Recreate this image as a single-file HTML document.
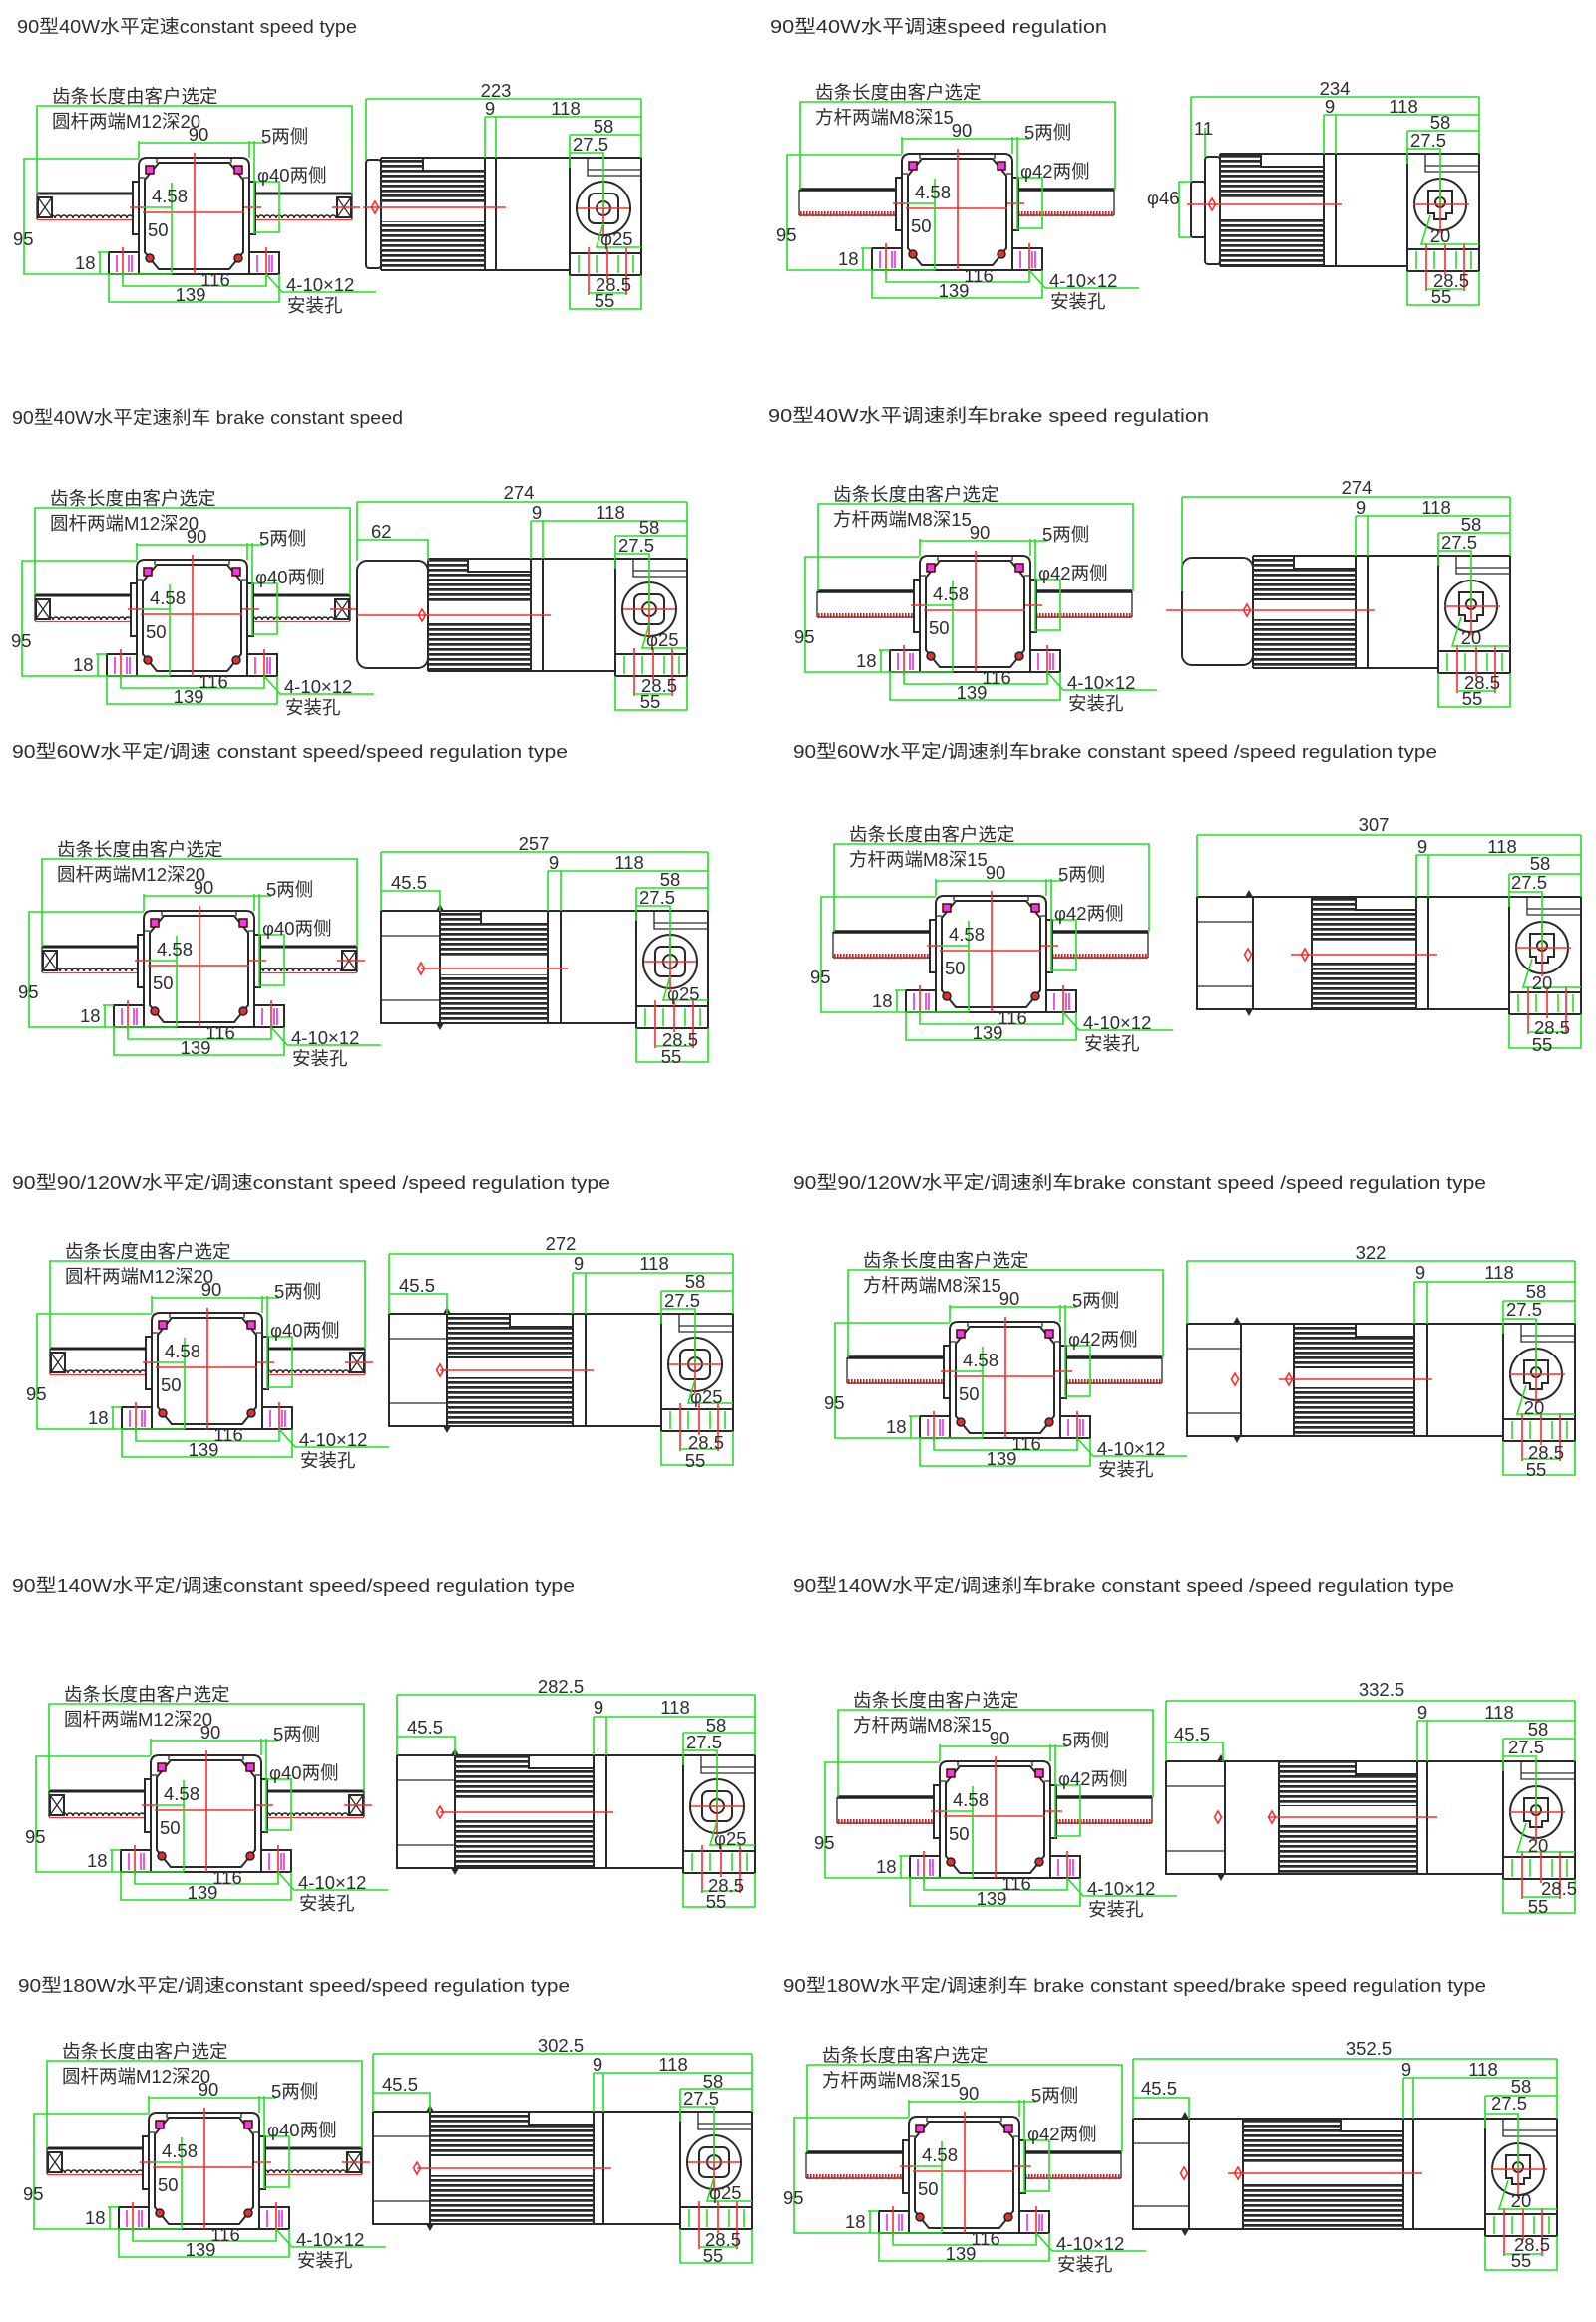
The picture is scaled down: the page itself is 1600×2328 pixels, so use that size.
<!DOCTYPE html>
<html><head><meta charset="utf-8">
<style>
html,body{margin:0;padding:0;background:#fff;}
svg{display:block}
text{font-family:"Liberation Sans","Noto Sans CJK SC",sans-serif;fill:#2e2e2e;font-size:18.5px}
.c{text-anchor:middle}
.k{fill:#fff;stroke:#2a2a2a;stroke-width:2}
.kn{fill:none;stroke:#2a2a2a;stroke-width:2}
.k1{fill:none;stroke:#2a2a2a;stroke-width:1.3}
.g{fill:none;stroke:#22e022;stroke-width:1.6}
.r{fill:none;stroke:#ff2a2a;stroke-width:1.6}
.m{fill:none;stroke:#e020e0;stroke-width:1.5}
</style></head><body>
<svg width="1600" height="2328" viewBox="0 0 1600 2328" xmlns="http://www.w3.org/2000/svg" xmlns:xlink="http://www.w3.org/1999/xlink">
<defs>
<pattern id="fin" width="10" height="5" patternUnits="userSpaceOnUse"><rect width="10" height="2.7" fill="#2a2a2a"/></pattern>
<pattern id="wave" x="0" y="54" width="6" height="8" patternUnits="userSpaceOnUse"><path d="M0,7 A3,3 0 0 1 6,7" fill="none" stroke="#222" stroke-width="1.5"/></pattern>
<pattern id="fine" x="0" y="58" width="3" height="5" patternUnits="userSpaceOnUse"><rect width="1.6" height="5" fill="#c22"/></pattern>

<g id="rr">
<path d="M-102,36 H-6 M117,36 H214" stroke="#222" stroke-width="3" fill="none"/>
<rect x="-102" y="54" width="96" height="8" fill="url(#wave)"/>
<rect x="117" y="54" width="97" height="8" fill="url(#wave)"/>
<path d="M-102,62.5 H-6 M117,62.5 H214" stroke="#f33" stroke-width="1.3" fill="none"/>
<path class="k1" d="M-102,36 V62 M214,36 V62"/>
<rect class="k" x="-101" y="40" width="14" height="20"/>
<path class="k1" d="M-101,40 L-87,60 M-87,40 L-101,60"/>
<rect class="k" x="199" y="40" width="14" height="20"/>
<path class="k1" d="M199,40 L213,60 M213,40 L199,60"/>
<path class="r" d="M194,50 H222"/>
</g>

<g id="rs">
<path d="M-103,36 H-6 M117,36 H213" stroke="#222" stroke-width="3.5" fill="none"/>
<path class="k1" d="M-103,36 V62 M213,36 V62 M-103,62 H-6 M117,62 H213"/>
<rect x="-103" y="58" width="97" height="5" fill="url(#fine)"/>
<rect x="117" y="58" width="96" height="5" fill="url(#fine)"/>
</g>

<g id="fc">
<rect class="k" x="-6" y="24" width="6" height="53"/>
<rect class="k" x="111" y="24" width="6" height="53"/>
<path class="k" d="M0,117 V8 Q0,0 8,0 H103 Q111,0 111,8 V117 Z"/>
<path class="k1" d="M0,20 H6 M105,20 H111 M18,0 V5 M93,0 V5"/>
<polygon class="k" points="20,5 91,5 105,22 105,95 91,112 20,112 6,95 6,22"/>
<rect x="7" y="8" width="8" height="8" fill="#e040e0" stroke="#500" stroke-width="1.5"/>
<rect x="96" y="8" width="8" height="8" fill="#e040e0" stroke="#500" stroke-width="1.5"/>
<circle cx="11" cy="101" r="4" fill="#e03030" stroke="#222" stroke-width="1.5"/>
<circle cx="100" cy="101" r="4" fill="#e03030" stroke="#222" stroke-width="1.5"/>
<rect class="k" x="-30" y="95" width="30" height="22"/>
<rect class="k" x="111" y="95" width="30" height="22"/>
<path class="m" d="M-22,98 V115 M-10,98 V115 M-7,98 V115 M119,98 V115 M131,98 V115 M134,98 V115"/>
<path class="r" d="M-16,90 V120 M128,90 V120 M56,-5 V117 M4,55 H106 M-9,50 H5 M106,50 H123"/>
<path class="g" d="M-102,36 V-52 H214 V36 M0,0 V-17 M111,0 V-17 M0,-15 H128 M116,-17 V77 M0,1 H-115 V117 H33 M33,25 V117 M4,50 H33 M117,24 H141 V75 H117 M-30,95 H-41 M-39,95 V117 M-16,117 V129 H128 V117 M-30,117 V145 H141 V117 M128,117 L144,135 H238"/>
</g>

<g id="gbR">
<path class="kn" d="M-72,0 V113"/>
<path class="k1" d="M-54,0 V18 H0 M-54,12 H-1"/>
<circle class="k" cx="-38" cy="51" r="27"/>
<rect class="k" x="-53" y="36" width="30" height="30" rx="6"/>
<circle class="k" cx="-38" cy="51" r="7"/>
<rect class="k" x="-72" y="96" width="72" height="22"/>
<path class="g" d="M-63,98 V116 M-45,98 V116 M-23,98 V116 M-8,98 V116"/>
<path class="r" d="M-64,51 H-12 M-38,22 V80 M-53,90 V138 M-34,90 V122 M-15,90 V138"/>
<path class="g" d="M-72,-23 H0 M-72,-23 V10 M-72,-5 H-38 V51 M-53,136 H-15 M-72,118 V152 H0 V118 M-38,66 L-45,90 H0"/>
</g>

<g id="gbS">
<path class="kn" d="M-72,0 V113"/>
<path class="k1" d="M-54,0 V18 H0 M-54,12 H-1"/>
<circle class="k" cx="-39" cy="51" r="26"/>
<path class="k" d="M-51,37 H-27 V60 H-33 V66 H-45 V60 H-51 Z"/>
<circle class="k" cx="-39" cy="49" r="5"/>
<rect class="k" x="-72" y="96" width="72" height="22"/>
<path class="g" d="M-63,98 V116 M-45,98 V116 M-23,98 V116 M-8,98 V116"/>
<path class="r" d="M-66,51 H-10 M-39,24 V80 M-53,90 V138 M-34,90 V122 M-15,90 V138"/>
<path class="g" d="M-72,-23 H0 M-72,-23 V10 M-72,-5 H-39 V51 M-53,136 H-15 M-72,118 V152 H0 V118 M-49,62 L-58,91 H0"/>
</g>
</defs>

<!-- ================= TITLES ================= -->
<text x="17" y="33" textLength="341" lengthAdjust="spacingAndGlyphs">90型40W水平定速constant speed type</text>
<text x="772" y="33" textLength="338" lengthAdjust="spacingAndGlyphs">90型40W水平调速speed regulation</text>
<text x="12" y="425" textLength="392" lengthAdjust="spacingAndGlyphs">90型40W水平定速刹车 brake constant speed</text>
<text x="770" y="423" textLength="442" lengthAdjust="spacingAndGlyphs">90型40W水平调速刹车brake speed regulation</text>
<text x="12" y="760" textLength="557" lengthAdjust="spacingAndGlyphs">90型60W水平定/调速 constant speed/speed regulation type</text>
<text x="795" y="760" textLength="646" lengthAdjust="spacingAndGlyphs">90型60W水平定/调速刹车brake constant speed /speed regulation type</text>
<text x="12" y="1192" textLength="600" lengthAdjust="spacingAndGlyphs">90型90/120W水平定/调速constant speed /speed regulation type</text>
<text x="795" y="1192" textLength="695" lengthAdjust="spacingAndGlyphs">90型90/120W水平定/调速刹车brake constant speed /speed regulation type</text>
<text x="12" y="1596" textLength="564" lengthAdjust="spacingAndGlyphs">90型140W水平定/调速constant speed/speed regulation type</text>
<text x="795" y="1596" textLength="663" lengthAdjust="spacingAndGlyphs">90型140W水平定/调速刹车brake constant speed /speed regulation type</text>
<text x="18" y="1997" textLength="553" lengthAdjust="spacingAndGlyphs">90型180W水平定/调速constant speed/speed regulation type</text>
<text x="785" y="1997" textLength="705" lengthAdjust="spacingAndGlyphs">90型180W水平定/调速刹车 brake constant speed/brake speed regulation type</text>

<!-- ================= FRONT VIEWS ================= -->
<g transform="translate(139,158)">
<use xlink:href="#rr"/><use xlink:href="#fc"/>
<text x="-87" y="-55">齿条长度由客户选定</text><text x="-87" y="-30">圆杆两端M12深20</text>
<text x="60" y="-17" class="c">90</text><text x="123" y="-15">5两侧</text><text x="119" y="24">φ40两侧</text>
<text x="13" y="45">4.58</text><text x="9" y="79">50</text><text x="-126" y="88">95</text><text x="-64" y="112">18</text>
<text x="77" y="129" class="c">116</text><text x="52" y="144" class="c">139</text><text x="148" y="134">4-10×12</text><text x="149" y="155">安装孔</text>
</g>
<g transform="translate(904,154)">
<use xlink:href="#rs"/><use xlink:href="#fc"/>
<text x="-87" y="-55">齿条长度由客户选定</text><text x="-87" y="-30">方杆两端M8深15</text>
<text x="60" y="-17" class="c">90</text><text x="123" y="-15">5两侧</text><text x="119" y="24">φ42两侧</text>
<text x="13" y="45">4.58</text><text x="9" y="79">50</text><text x="-126" y="88">95</text><text x="-64" y="112">18</text>
<text x="77" y="129" class="c">116</text><text x="52" y="144" class="c">139</text><text x="148" y="134">4-10×12</text><text x="149" y="155">安装孔</text>
</g>
<g transform="translate(137,561)">
<use xlink:href="#rr"/><use xlink:href="#fc"/>
<text x="-87" y="-55">齿条长度由客户选定</text><text x="-87" y="-30">圆杆两端M12深20</text>
<text x="60" y="-17" class="c">90</text><text x="123" y="-15">5两侧</text><text x="119" y="24">φ40两侧</text>
<text x="13" y="45">4.58</text><text x="9" y="79">50</text><text x="-126" y="88">95</text><text x="-64" y="112">18</text>
<text x="77" y="129" class="c">116</text><text x="52" y="144" class="c">139</text><text x="148" y="134">4-10×12</text><text x="149" y="155">安装孔</text>
</g>
<g transform="translate(922,557)">
<use xlink:href="#rs"/><use xlink:href="#fc"/>
<text x="-87" y="-55">齿条长度由客户选定</text><text x="-87" y="-30">方杆两端M8深15</text>
<text x="60" y="-17" class="c">90</text><text x="123" y="-15">5两侧</text><text x="119" y="24">φ42两侧</text>
<text x="13" y="45">4.58</text><text x="9" y="79">50</text><text x="-126" y="88">95</text><text x="-64" y="112">18</text>
<text x="77" y="129" class="c">116</text><text x="52" y="144" class="c">139</text><text x="148" y="134">4-10×12</text><text x="149" y="155">安装孔</text>
</g>
<g transform="translate(144,913)">
<use xlink:href="#rr"/><use xlink:href="#fc"/>
<text x="-87" y="-55">齿条长度由客户选定</text><text x="-87" y="-30">圆杆两端M12深20</text>
<text x="60" y="-17" class="c">90</text><text x="123" y="-15">5两侧</text><text x="119" y="24">φ40两侧</text>
<text x="13" y="45">4.58</text><text x="9" y="79">50</text><text x="-126" y="88">95</text><text x="-64" y="112">18</text>
<text x="77" y="129" class="c">116</text><text x="52" y="144" class="c">139</text><text x="148" y="134">4-10×12</text><text x="149" y="155">安装孔</text>
</g>
<g transform="translate(938,898)">
<use xlink:href="#rs"/><use xlink:href="#fc"/>
<text x="-87" y="-55">齿条长度由客户选定</text><text x="-87" y="-30">方杆两端M8深15</text>
<text x="60" y="-17" class="c">90</text><text x="123" y="-15">5两侧</text><text x="119" y="24">φ42两侧</text>
<text x="13" y="45">4.58</text><text x="9" y="79">50</text><text x="-126" y="88">95</text><text x="-64" y="112">18</text>
<text x="77" y="129" class="c">116</text><text x="52" y="144" class="c">139</text><text x="148" y="134">4-10×12</text><text x="149" y="155">安装孔</text>
</g>
<g transform="translate(152,1316)">
<use xlink:href="#rr"/><use xlink:href="#fc"/>
<text x="-87" y="-55">齿条长度由客户选定</text><text x="-87" y="-30">圆杆两端M12深20</text>
<text x="60" y="-17" class="c">90</text><text x="123" y="-15">5两侧</text><text x="119" y="24">φ40两侧</text>
<text x="13" y="45">4.58</text><text x="9" y="79">50</text><text x="-126" y="88">95</text><text x="-64" y="112">18</text>
<text x="77" y="129" class="c">116</text><text x="52" y="144" class="c">139</text><text x="148" y="134">4-10×12</text><text x="149" y="155">安装孔</text>
</g>
<g transform="translate(952,1325)">
<use xlink:href="#rs"/><use xlink:href="#fc"/>
<text x="-87" y="-55">齿条长度由客户选定</text><text x="-87" y="-30">方杆两端M8深15</text>
<text x="60" y="-17" class="c">90</text><text x="123" y="-15">5两侧</text><text x="119" y="24">φ42两侧</text>
<text x="13" y="45">4.58</text><text x="9" y="79">50</text><text x="-126" y="88">95</text><text x="-64" y="112">18</text>
<text x="77" y="129" class="c">116</text><text x="52" y="144" class="c">139</text><text x="148" y="134">4-10×12</text><text x="149" y="155">安装孔</text>
</g>
<g transform="translate(151,1760)">
<use xlink:href="#rr"/><use xlink:href="#fc"/>
<text x="-87" y="-55">齿条长度由客户选定</text><text x="-87" y="-30">圆杆两端M12深20</text>
<text x="60" y="-17" class="c">90</text><text x="123" y="-15">5两侧</text><text x="119" y="24">φ40两侧</text>
<text x="13" y="45">4.58</text><text x="9" y="79">50</text><text x="-126" y="88">95</text><text x="-64" y="112">18</text>
<text x="77" y="129" class="c">116</text><text x="52" y="144" class="c">139</text><text x="148" y="134">4-10×12</text><text x="149" y="155">安装孔</text>
</g>
<g transform="translate(942,1766)">
<use xlink:href="#rs"/><use xlink:href="#fc"/>
<text x="-87" y="-55">齿条长度由客户选定</text><text x="-87" y="-30">方杆两端M8深15</text>
<text x="60" y="-17" class="c">90</text><text x="123" y="-15">5两侧</text><text x="119" y="24">φ42两侧</text>
<text x="13" y="45">4.58</text><text x="9" y="79">50</text><text x="-126" y="88">95</text><text x="-64" y="112">18</text>
<text x="77" y="129" class="c">116</text><text x="52" y="144" class="c">139</text><text x="148" y="134">4-10×12</text><text x="149" y="155">安装孔</text>
</g>
<g transform="translate(149,2118)">
<use xlink:href="#rr"/><use xlink:href="#fc"/>
<text x="-87" y="-55">齿条长度由客户选定</text><text x="-87" y="-30">圆杆两端M12深20</text>
<text x="60" y="-17" class="c">90</text><text x="123" y="-15">5两侧</text><text x="119" y="24">φ40两侧</text>
<text x="13" y="45">4.58</text><text x="9" y="79">50</text><text x="-126" y="88">95</text><text x="-64" y="112">18</text>
<text x="77" y="129" class="c">116</text><text x="52" y="144" class="c">139</text><text x="148" y="134">4-10×12</text><text x="149" y="155">安装孔</text>
</g>
<g transform="translate(911,2122)">
<use xlink:href="#rs"/><use xlink:href="#fc"/>
<text x="-87" y="-55">齿条长度由客户选定</text><text x="-87" y="-30">方杆两端M8深15</text>
<text x="60" y="-17" class="c">90</text><text x="123" y="-15">5两侧</text><text x="119" y="24">φ42两侧</text>
<text x="13" y="45">4.58</text><text x="9" y="79">50</text><text x="-126" y="88">95</text><text x="-64" y="112">18</text>
<text x="77" y="129" class="c">116</text><text x="52" y="144" class="c">139</text><text x="148" y="134">4-10×12</text><text x="149" y="155">安装孔</text>
</g>

<!-- ================= SIDE VIEWS ================= -->
<!-- R1L -->
<rect class="k" x="367" y="160" width="15" height="109" rx="3"/>
<rect x="382" y="158" width="104" height="113" fill="url(#fin)"/>
<rect x="382" y="203" width="104" height="19" fill="#fff"/>
<rect class="k" x="424" y="158" width="62" height="13"/>
<path class="kn" d="M382,158 H486 M382,271 H486 M382,158 V271"/>
<rect class="k" x="486" y="158" width="11" height="113"/>
<rect class="k" x="497" y="158" width="146" height="113"/>
<use xlink:href="#gbR" x="643" y="158"/>
<path class="r" d="M364,208 H507 M376,202 L379.5,208 L376,214 L372.5,208 Z"/>
<path class="g" d="M367,99 H643 M367,99 V160 M643,99 V158 M486,117 H643 M486,117 V158 M497,117 V158"/>
<text x="497" y="97" class="c">223</text><text x="491" y="115" class="c">9</text><text x="567" y="115" class="c">118</text>
<g transform="translate(643,158)"><text x="-38" y="-25" class="c">58</text><text x="-51" y="-7" class="c">27.5</text><text x="-41" y="88">φ25</text><text x="-28" y="134" class="c">28.5</text><text x="-37" y="150" class="c">55</text></g>

<!-- R1R -->
<rect class="k" x="1194" y="182" width="14" height="56" rx="2"/>
<rect class="k" x="1208" y="157" width="15" height="108" rx="3"/>
<rect x="1223" y="154" width="104" height="113" fill="url(#fin)"/>
<rect x="1223" y="199" width="104" height="19" fill="#fff"/>
<rect class="k" x="1264" y="154" width="63" height="13"/>
<path class="kn" d="M1223,154 H1327 M1223,267 H1327 M1223,154 V267"/>
<rect class="k" x="1327" y="154" width="12" height="113"/>
<rect class="k" x="1339" y="154" width="144" height="113"/>
<use xlink:href="#gbS" x="1483" y="154"/>
<path class="r" d="M1190,205 H1345 M1215,199 L1218.5,205 L1215,211 L1211.5,205 Z"/>
<path class="g" d="M1194,97 H1483 M1194,97 V182 M1483,97 V154 M1327,115 H1483 M1327,115 V154 M1339,115 V154 M1208,128 V157 M1194,182 H1182 V238 H1194"/>
<text x="1338" y="95" class="c">234</text><text x="1333" y="113" class="c">9</text><text x="1407" y="113" class="c">118</text>
<text x="1197" y="135">11</text><text x="1150" y="205">φ46</text>
<g transform="translate(1483,154)"><text x="-39" y="-25" class="c">58</text><text x="-51" y="-7" class="c">27.5</text><text x="-39" y="89" class="c">20</text><text x="-28" y="134" class="c">28.5</text><text x="-38" y="150" class="c">55</text></g>

<!-- R2L -->
<rect class="k" x="358" y="562" width="71" height="108" rx="10"/>
<rect x="429" y="560" width="103" height="113" fill="url(#fin)"/>
<rect x="429" y="605" width="103" height="19" fill="#fff"/>
<rect class="k" x="469" y="560" width="63" height="13"/>
<path class="kn" d="M429,560 H532 M429,673 H532 M429,560 V673"/>
<rect class="k" x="532" y="560" width="12" height="113"/>
<rect class="k" x="544" y="560" width="145" height="113"/>
<use xlink:href="#gbR" x="689" y="560"/>
<path class="r" d="M358,617 H552 M423,611 L426.5,617 L423,623 L419.5,617 Z"/>
<path class="g" d="M358,503 H689 M358,503 V562 M689,503 V560 M532,522 H689 M532,522 V560 M544,522 V560 M358,541 H429 V562"/>
<text x="520" y="500" class="c">274</text><text x="538" y="520" class="c">9</text><text x="612" y="520" class="c">118</text><text x="372" y="539">62</text>
<g transform="translate(689,560)"><text x="-38" y="-25" class="c">58</text><text x="-51" y="-7" class="c">27.5</text><text x="-41" y="88">φ25</text><text x="-28" y="134" class="c">28.5</text><text x="-37" y="150" class="c">55</text></g>

<!-- R2R -->
<rect class="k" x="1185" y="559" width="71" height="108" rx="10"/>
<rect x="1256" y="557" width="103" height="113" fill="url(#fin)"/>
<rect x="1256" y="602" width="103" height="19" fill="#fff"/>
<rect class="k" x="1297" y="557" width="62" height="13"/>
<path class="kn" d="M1256,557 H1359 M1256,670 H1359 M1256,557 V670"/>
<rect class="k" x="1359" y="557" width="12" height="113"/>
<rect class="k" x="1371" y="557" width="143" height="113"/>
<use xlink:href="#gbS" x="1514" y="557"/>
<path class="r" d="M1169,612 H1378 M1250,606 L1253.5,612 L1250,618 L1246.5,612 Z"/>
<path class="g" d="M1185,498 H1514 M1185,498 V593 M1514,498 V557 M1359,517 H1514 M1359,517 V557 M1371,517 V557"/>
<text x="1360" y="495" class="c">274</text><text x="1364" y="515" class="c">9</text><text x="1440" y="515" class="c">118</text>
<g transform="translate(1514,557)"><text x="-39" y="-25" class="c">58</text><text x="-51" y="-7" class="c">27.5</text><text x="-39" y="89" class="c">20</text><text x="-28" y="134" class="c">28.5</text><text x="-38" y="150" class="c">55</text></g>

<!-- R3L -->
<rect class="k" x="382" y="913" width="59" height="113"/>
<path class="k1" d="M382,938 H441 M382,1003 H441"/>
<path fill="#2a2a2a" d="M437,913 L441,906 L445,913 Z M437,1026 L441,1033 L445,1026 Z"/>
<rect x="441" y="913" width="108" height="113" fill="url(#fin)"/>
<rect x="441" y="958" width="108" height="19" fill="#fff"/>
<rect class="k" x="482" y="913" width="67" height="13"/>
<path class="kn" d="M441,913 H549 M441,1026 H549 M441,913 V1026"/>
<rect class="k" x="549" y="913" width="13" height="113"/>
<rect class="k" x="562" y="913" width="148" height="113"/>
<use xlink:href="#gbR" x="710" y="913"/>
<path class="r" d="M422,971 H569 M422,965 L425.5,971 L422,977 L418.5,971 Z"/>
<path class="g" d="M382,854 H710 M382,854 V913 M710,854 V913 M549,873 H710 M549,873 V913 M562,873 V913 M382,893 H441 V913"/>
<text x="535" y="852" class="c">257</text><text x="555" y="871" class="c">9</text><text x="631" y="871" class="c">118</text><text x="392" y="891">45.5</text>
<g transform="translate(710,913)"><text x="-38" y="-25" class="c">58</text><text x="-51" y="-7" class="c">27.5</text><text x="-41" y="90">φ25</text><text x="-28" y="136" class="c">28.5</text><text x="-37" y="153" class="c">55</text></g>

<!-- R3R -->
<rect class="k" x="1200" y="899" width="56" height="113"/>
<path class="k1" d="M1200,924 H1256 M1200,989 H1256"/>
<path fill="#2a2a2a" d="M1248,899 L1252,892 L1256,899 Z M1248,1012 L1252,1019 L1256,1012 Z"/>
<rect x="1315" y="899" width="105" height="113" fill="url(#fin)"/>
<rect x="1315" y="944" width="105" height="19" fill="#fff"/>
<rect class="k" x="1359" y="899" width="61" height="13"/>
<path class="kn" d="M1256,899 H1420 M1256,1012 H1420 M1315,899 V1012"/>
<rect class="k" x="1420" y="899" width="12" height="113"/>
<rect class="k" x="1432" y="899" width="153" height="113"/>
<use xlink:href="#gbS" x="1585" y="899"/>
<path class="r" d="M1294,957 H1441 M1251,951 L1254.5,957 L1251,963 L1247.5,957 Z M1308,951 L1311.5,957 L1308,963 L1304.5,957 Z"/>
<path class="g" d="M1200,837 H1585 M1200,837 V899 M1585,837 V899 M1420,857 H1585 M1420,857 V899 M1432,857 V899"/>
<text x="1377" y="833" class="c">307</text><text x="1426" y="855" class="c">9</text><text x="1506" y="855" class="c">118</text>
<g transform="translate(1585,899)"><text x="-41" y="-27" class="c">58</text><text x="-52" y="-8" class="c">27.5</text><text x="-39" y="93" class="c">20</text><text x="-29" y="138" class="c">28.5</text><text x="-39" y="155" class="c">55</text></g>

<!-- R4L -->
<rect class="k" x="390" y="1317" width="58" height="113"/>
<path class="k1" d="M390,1342 H448 M390,1407 H448"/>
<path fill="#2a2a2a" d="M444,1317 L448,1310 L452,1317 Z M444,1430 L448,1437 L452,1430 Z"/>
<rect x="448" y="1317" width="126" height="113" fill="url(#fin)"/>
<rect x="448" y="1362" width="126" height="19" fill="#fff"/>
<rect class="k" x="511" y="1317" width="63" height="13"/>
<path class="kn" d="M448,1317 H574 M448,1430 H574 M448,1317 V1430"/>
<rect class="k" x="574" y="1317" width="13" height="113"/>
<rect class="k" x="587" y="1317" width="148" height="113"/>
<use xlink:href="#gbR" x="735" y="1317"/>
<path class="r" d="M441,1374 H595 M441,1368 L444.5,1374 L441,1380 L437.5,1374 Z"/>
<path class="g" d="M390,1257 H735 M390,1257 V1317 M735,1257 V1317 M574,1276 H735 M574,1276 V1317 M587,1276 V1317 M390,1297 H448 V1317"/>
<text x="562" y="1253" class="c">272</text><text x="580" y="1273" class="c">9</text><text x="656" y="1273" class="c">118</text><text x="400" y="1295">45.5</text>
<g transform="translate(735,1317)"><text x="-38" y="-26" class="c">58</text><text x="-51" y="-7" class="c">27.5</text><text x="-43" y="90">φ25</text><text x="-27" y="136" class="c">28.5</text><text x="-38" y="154" class="c">55</text></g>

<!-- R4R -->
<rect class="k" x="1190" y="1327" width="54" height="113"/>
<path class="k1" d="M1190,1352 H1244 M1190,1417 H1244"/>
<path fill="#2a2a2a" d="M1236,1327 L1240,1320 L1244,1327 Z M1236,1440 L1240,1447 L1244,1440 Z"/>
<rect x="1297" y="1327" width="121" height="113" fill="url(#fin)"/>
<rect x="1297" y="1372" width="121" height="19" fill="#fff"/>
<rect class="k" x="1359" y="1327" width="59" height="13"/>
<path class="kn" d="M1244,1327 H1418 M1244,1440 H1418 M1297,1327 V1440"/>
<rect class="k" x="1418" y="1327" width="13" height="113"/>
<rect class="k" x="1431" y="1327" width="148" height="113"/>
<use xlink:href="#gbS" x="1579" y="1327"/>
<path class="r" d="M1282,1383 H1436 M1238,1377 L1241.5,1383 L1238,1389 L1234.5,1383 Z M1292,1377 L1295.5,1383 L1292,1389 L1288.5,1383 Z"/>
<path class="g" d="M1190,1264 H1579 M1190,1264 V1327 M1579,1264 V1327 M1418,1285 H1579 M1418,1285 V1327 M1431,1285 V1327"/>
<text x="1374" y="1262" class="c">322</text><text x="1424" y="1282" class="c">9</text><text x="1503" y="1282" class="c">118</text>
<g transform="translate(1579,1327)"><text x="-39" y="-26" class="c">58</text><text x="-51" y="-8" class="c">27.5</text><text x="-41" y="91" class="c">20</text><text x="-29" y="136" class="c">28.5</text><text x="-39" y="153" class="c">55</text></g>

<!-- R5L -->
<rect class="k" x="398" y="1760" width="58" height="113"/>
<path class="k1" d="M398,1785 H456 M398,1850 H456"/>
<path fill="#2a2a2a" d="M452,1760 L456,1753 L460,1760 Z M452,1873 L456,1880 L460,1873 Z"/>
<rect x="456" y="1760" width="139" height="113" fill="url(#fin)"/>
<rect x="456" y="1805" width="139" height="19" fill="#fff"/>
<rect class="k" x="530" y="1760" width="65" height="13"/>
<path class="kn" d="M456,1760 H595 M456,1873 H595 M456,1760 V1873"/>
<rect class="k" x="595" y="1760" width="13" height="113"/>
<rect class="k" x="608" y="1760" width="149" height="113"/>
<use xlink:href="#gbR" x="757" y="1760"/>
<path class="r" d="M441,1817 H615 M441,1811 L444.5,1817 L441,1823 L437.5,1817 Z"/>
<path class="g" d="M398,1699 H757 M398,1699 V1760 M757,1699 V1760 M595,1721 H757 M595,1721 V1760 M608,1721 V1760 M398,1741 H456 V1760"/>
<text x="562" y="1697" class="c">282.5</text><text x="600" y="1718" class="c">9</text><text x="677" y="1718" class="c">118</text><text x="408" y="1738">45.5</text>
<g transform="translate(757,1760)"><text x="-39" y="-24" class="c">58</text><text x="-51" y="-7" class="c">27.5</text><text x="-41" y="90">φ25</text><text x="-29" y="137" class="c">28.5</text><text x="-39" y="153" class="c">55</text></g>

<!-- R5R -->
<rect class="k" x="1169" y="1766" width="59" height="113"/>
<path class="k1" d="M1169,1791 H1228 M1169,1856 H1228"/>
<path fill="#2a2a2a" d="M1220,1766 L1224,1759 L1228,1766 Z M1220,1879 L1224,1886 L1228,1879 Z"/>
<rect x="1282" y="1766" width="139" height="113" fill="url(#fin)"/>
<rect x="1282" y="1811" width="139" height="19" fill="#fff"/>
<rect class="k" x="1359" y="1766" width="62" height="13"/>
<path class="kn" d="M1228,1766 H1421 M1228,1879 H1421 M1282,1766 V1879"/>
<rect class="k" x="1421" y="1766" width="10" height="113"/>
<rect class="k" x="1431" y="1766" width="148" height="113"/>
<use xlink:href="#gbS" x="1579" y="1766"/>
<path class="r" d="M1272,1822 H1441 M1221,1816 L1224.5,1822 L1221,1828 L1217.5,1822 Z M1275,1816 L1278.5,1822 L1275,1828 L1271.5,1822 Z"/>
<path class="g" d="M1169,1705 H1579 M1169,1705 V1766 M1579,1705 V1766 M1421,1725 H1579 M1421,1725 V1766 M1431,1725 V1766 M1169,1747 H1226 V1766"/>
<text x="1385" y="1700" class="c">332.5</text><text x="1426" y="1723" class="c">9</text><text x="1503" y="1723" class="c">118</text><text x="1177" y="1745">45.5</text>
<g transform="translate(1579,1766)"><text x="-37" y="-26" class="c">58</text><text x="-49" y="-8" class="c">27.5</text><text x="-37" y="91" class="c">20</text><text x="-16" y="134" class="c">28.5</text><text x="-37" y="152" class="c">55</text></g>

<!-- R6L -->
<rect class="k" x="374" y="2117" width="57" height="113"/>
<path class="k1" d="M374,2142 H431 M374,2207 H431"/>
<path fill="#2a2a2a" d="M427,2117 L431,2110 L435,2117 Z M427,2230 L431,2237 L435,2230 Z"/>
<rect x="431" y="2117" width="164" height="113" fill="url(#fin)"/>
<rect x="431" y="2162" width="164" height="19" fill="#fff"/>
<rect class="k" x="530" y="2117" width="65" height="13"/>
<path class="kn" d="M431,2117 H595 M431,2230 H595 M431,2117 V2230"/>
<rect class="k" x="595" y="2117" width="10" height="113"/>
<rect class="k" x="605" y="2117" width="149" height="113"/>
<use xlink:href="#gbR" x="754" y="2117"/>
<path class="r" d="M418,2174 H613 M418,2168 L421.5,2174 L418,2180 L414.5,2174 Z"/>
<path class="g" d="M374,2059 H754 M374,2059 V2117 M754,2059 V2117 M595,2078 H754 M595,2078 V2117 M605,2078 V2117 M374,2098 H431 V2117"/>
<text x="562" y="2057" class="c">302.5</text><text x="599" y="2076" class="c">9</text><text x="675" y="2076" class="c">118</text><text x="383" y="2096">45.5</text>
<g transform="translate(754,2117)"><text x="-39" y="-24" class="c">58</text><text x="-51" y="-7" class="c">27.5</text><text x="-43" y="88">φ25</text><text x="-29" y="135" class="c">28.5</text><text x="-39" y="151" class="c">55</text></g>

<!-- R6R -->
<rect class="k" x="1136" y="2124" width="56" height="111"/>
<path class="k1" d="M1136,2149 H1192 M1136,2212 H1192"/>
<path fill="#2a2a2a" d="M1184,2124 L1188,2117 L1192,2124 Z M1184,2235 L1188,2242 L1192,2235 Z"/>
<rect x="1246" y="2124" width="161" height="111" fill="url(#fin)"/>
<rect x="1246" y="2169" width="161" height="19" fill="#fff"/>
<rect class="k" x="1344" y="2124" width="63" height="13"/>
<path class="kn" d="M1192,2124 H1407 M1192,2235 H1407 M1246,2124 V2235"/>
<rect class="k" x="1407" y="2124" width="10" height="111"/>
<rect class="k" x="1417" y="2124" width="144" height="111"/>
<use xlink:href="#gbS" x="1561" y="2124"/>
<path class="r" d="M1231,2179 H1426 M1187,2173 L1190.5,2179 L1187,2185 L1183.5,2179 Z M1241,2173 L1244.5,2179 L1241,2185 L1237.5,2179 Z"/>
<path class="g" d="M1136,2064 H1561 M1136,2064 V2124 M1561,2064 V2124 M1407,2083 H1561 M1407,2083 V2124 M1417,2083 V2124 M1136,2103 H1192 V2124"/>
<text x="1372" y="2060" class="c">352.5</text><text x="1410" y="2081" class="c">9</text><text x="1487" y="2081" class="c">118</text><text x="1144" y="2100">45.5</text>
<g transform="translate(1561,2124)"><text x="-36" y="-26" class="c">58</text><text x="-48" y="-9" class="c">27.5</text><text x="-36" y="89" class="c">20</text><text x="-25" y="133" class="c">28.5</text><text x="-36" y="149" class="c">55</text></g>
</svg>
</body></html>
